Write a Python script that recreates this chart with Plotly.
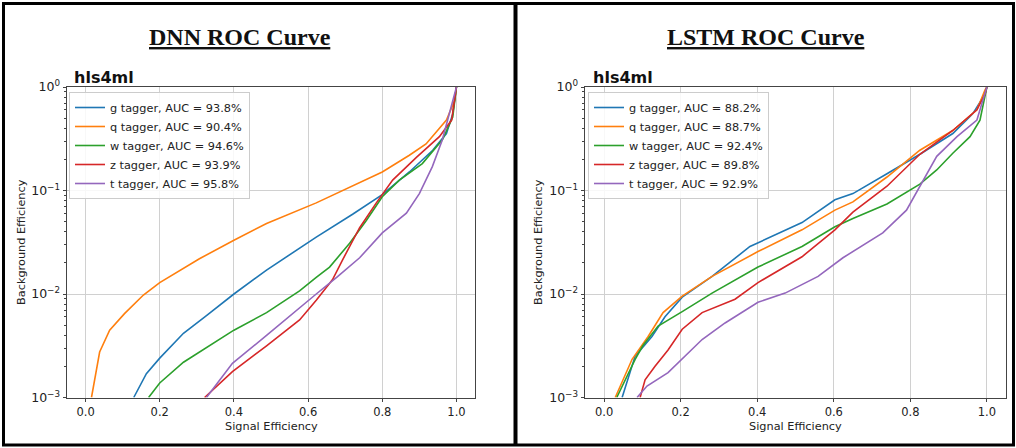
import plotly.graph_objects as go

taggers = ["g tagger", "q tagger", "w tagger", "z tagger", "t tagger"]
colors = ["#1f77b4", "#ff7f0e", "#2ca02c", "#d62728", "#9467bd"]

dnn_auc = ["93.8%", "90.4%", "94.6%", "93.9%", "95.8%"]
lstm_auc = ["88.2%", "88.7%", "92.4%", "89.8%", "92.9%"]

# ---- DNN ROC curves (signal efficiency, background efficiency) ----
dnn_g_x = [0.13, 0.164, 0.2, 0.264, 0.326, 0.4, 0.488, 0.622, 0.72, 0.8, 0.873, 0.936, 0.973, 0.99, 1.0]
dnn_g_y = [0.001, 0.0017, 0.0024, 0.00417, 0.00617, 0.01, 0.017, 0.0355, 0.0589, 0.0912, 0.151, 0.245, 0.355, 0.55, 1.0]

dnn_q_x = [0.016, 0.03, 0.038, 0.065, 0.105, 0.156, 0.2, 0.307, 0.4, 0.488, 0.577, 0.622, 0.8, 0.873, 0.918, 0.973, 0.995, 1.0]
dnn_q_y = [0.001, 0.00195, 0.00275, 0.00447, 0.00646, 0.00977, 0.0129, 0.0219, 0.0331, 0.0479, 0.0646, 0.0759, 0.151, 0.219, 0.282, 0.479, 0.741, 1.0]

dnn_w_x = [0.17, 0.2, 0.264, 0.326, 0.4, 0.488, 0.577, 0.622, 0.658, 0.712, 0.757, 0.8, 0.846, 0.908, 0.962, 0.99, 1.0]
dnn_w_y = [0.001, 0.00138, 0.00219, 0.00302, 0.00447, 0.00661, 0.0107, 0.0145, 0.0182, 0.0309, 0.0513, 0.0871, 0.126, 0.182, 0.309, 0.513, 1.0]

dnn_z_x = [0.321, 0.396, 0.488, 0.577, 0.622, 0.666, 0.693, 0.739, 0.784, 0.828, 0.892, 0.954, 0.987, 1.0]
dnn_z_y = [0.001, 0.00178, 0.00316, 0.00562, 0.0087, 0.0138, 0.0214, 0.0437, 0.0759, 0.126, 0.209, 0.331, 0.479, 1.0]

dnn_t_x = [0.326, 0.396, 0.488, 0.577, 0.622, 0.677, 0.739, 0.8, 0.865, 0.9, 0.935, 0.962, 0.981, 1.0]
dnn_t_y = [0.001, 0.00214, 0.00398, 0.00741, 0.01, 0.0145, 0.0224, 0.0389, 0.0603, 0.0933, 0.17, 0.309, 0.562, 1.0]

# ---- LSTM ROC curves ----
lstm_g_x = [0.047, 0.081, 0.125, 0.159, 0.204, 0.282, 0.381, 0.517, 0.603, 0.65, 0.739, 0.825, 0.911, 0.963, 0.995, 1.0]
lstm_g_y = [0.001, 0.00251, 0.00389, 0.00603, 0.00933, 0.0148, 0.0288, 0.049, 0.0813, 0.0933, 0.145, 0.224, 0.355, 0.55, 0.851, 1.0]

lstm_q_x = [0.029, 0.073, 0.115, 0.154, 0.204, 0.282, 0.402, 0.517, 0.603, 0.65, 0.739, 0.825, 0.911, 0.974, 0.995, 1.0]
lstm_q_y = [0.001, 0.00234, 0.00389, 0.00661, 0.00955, 0.0148, 0.0257, 0.0417, 0.0646, 0.0776, 0.135, 0.245, 0.38, 0.603, 0.933, 1.0]

lstm_w_x = [0.033, 0.081, 0.101, 0.141, 0.204, 0.282, 0.402, 0.517, 0.603, 0.65, 0.739, 0.825, 0.869, 0.911, 0.956, 0.982, 1.0]
lstm_w_y = [0.001, 0.00234, 0.00316, 0.0049, 0.00676, 0.0102, 0.0182, 0.0288, 0.0447, 0.0537, 0.0741, 0.115, 0.158, 0.229, 0.331, 0.479, 1.0]

lstm_z_x = [0.094, 0.107, 0.133, 0.167, 0.204, 0.256, 0.342, 0.402, 0.517, 0.603, 0.65, 0.739, 0.825, 0.911, 0.974, 0.995, 1.0]
lstm_z_y = [0.001, 0.00148, 0.002, 0.00288, 0.00457, 0.00661, 0.00891, 0.0129, 0.0229, 0.0417, 0.0617, 0.11, 0.224, 0.38, 0.603, 0.851, 1.0]

lstm_t_x = [0.086, 0.112, 0.167, 0.211, 0.256, 0.316, 0.402, 0.473, 0.559, 0.624, 0.728, 0.79, 0.833, 0.869, 0.922, 0.974, 1.0]
lstm_t_y = [0.001, 0.00129, 0.00174, 0.00251, 0.00363, 0.00525, 0.00832, 0.0102, 0.0148, 0.0224, 0.0389, 0.0646, 0.126, 0.214, 0.331, 0.479, 1.0]

x_tick_vals = [0.0, 0.2, 0.4, 0.6, 0.8, 1.0]
x_tick_text = ["0.0", "0.2", "0.4", "0.6", "0.8", "1.0"]
y_tick_vals = [0.001, 0.01, 0.1, 1.0]
y_tick_text = ["10<sup>\u22123</sup>", "10<sup>\u22122</sup>", "10<sup>\u22121</sup>", "10<sup>0</sup>"]
y_minor_vals = [m * 10.0 ** e for e in (-3, -2, -1) for m in range(2, 10)]

panel_titles = ["DNN ROC Curve", "LSTM ROC Curve"]
sub_title = "hls4ml"
x_label = "Signal Efficiency"
y_label = "Background Efficiency"

dnn_data = [(dnn_g_x, dnn_g_y), (dnn_q_x, dnn_q_y), (dnn_w_x, dnn_w_y), (dnn_z_x, dnn_z_y), (dnn_t_x, dnn_t_y)]
lstm_data = [(lstm_g_x, lstm_g_y), (lstm_q_x, lstm_q_y), (lstm_w_x, lstm_w_y), (lstm_z_x, lstm_z_y), (lstm_t_x, lstm_t_y)]

W, H = 1016, 448
FONT = "DejaVu Sans"

fig = go.Figure()

for i, (xs, ys) in enumerate(dnn_data):
    fig.add_trace(go.Scatter(x=xs, y=ys, mode="lines", line=dict(color=colors[i], width=1.6),
                             name=f"{taggers[i]}, AUC = {dnn_auc[i]}", xaxis="x", yaxis="y", legend="legend"))
for i, (xs, ys) in enumerate(lstm_data):
    fig.add_trace(go.Scatter(x=xs, y=ys, mode="lines", line=dict(color=colors[i], width=1.6),
                             name=f"{taggers[i]}, AUC = {lstm_auc[i]}", xaxis="x2", yaxis="y2", legend="legend2"))

def px_x(p):
    return p / W

def px_y(p):
    return 1 - p / H

left_dom = [px_x(67), px_x(475)]
right_dom = [px_x(585), px_x(1006)]
y_dom = [px_y(397.5), px_y(87)]

tickfont = dict(family=FONT, size=11.5, color="#222")
xcommon = dict(range=[-0.05, 1.05], tickvals=x_tick_vals, ticktext=x_tick_text, showgrid=True,
               gridcolor="#d0d0d0", gridwidth=1, zeroline=False, showline=True, linecolor="#444",
               linewidth=1, mirror=True, ticks="outside", ticklen=3.5, tickcolor="#444",
               tickfont=tickfont, automargin=False)
ycommon = dict(type="log", range=[-3, 0], tickvals=y_tick_vals, ticktext=y_tick_text, showgrid=True,
               gridcolor="#d0d0d0", gridwidth=1, zeroline=False, showline=True, linecolor="#444",
               linewidth=1, mirror=True, ticks="outside", ticklen=3.5, tickcolor="#444",
               tickfont=dict(family=FONT, size=12.5, color="#222"), automargin=False,
               minor=dict(tickvals=y_minor_vals, ticks="outside", ticklen=2, tickcolor="#444", showgrid=False))

legend_common = dict(font=dict(family=FONT, size=11.3, color="#222"), bgcolor="rgba(255,255,255,0.85)",
                     bordercolor="#cccccc", borderwidth=1, xanchor="left", yanchor="top",
                     itemwidth=30, tracegroupgap=0)

fig.update_layout(
    template="none",
    width=W, height=H, autosize=False,
    margin=dict(l=0, r=0, t=0, b=0, pad=0, autoexpand=False),
    paper_bgcolor="white", plot_bgcolor="white",
    font=dict(family=FONT, color="#222"),
    xaxis=dict(domain=left_dom, anchor="y", **xcommon),
    yaxis=dict(domain=y_dom, anchor="x", **ycommon),
    xaxis2=dict(domain=right_dom, anchor="y2", **xcommon),
    yaxis2=dict(domain=y_dom, anchor="x2", **ycommon),
    legend=dict(x=px_x(69), y=px_y(92), **legend_common),
    legend2=dict(x=px_x(588), y=px_y(92), **legend_common),
    showlegend=True,
)

annotations = []
for title, cx, hx, xc, ylx in [(panel_titles[0], 240, 73, 271, 21), (panel_titles[1], 766, 592, 795.5, 538)]:
    annotations.append(dict(text=f"<b><u>{title}</u></b>", x=px_x(cx), y=px_y(37), xref="paper", yref="paper",
                            xanchor="center", yanchor="middle", showarrow=False,
                            font=dict(family="Liberation Serif", size=24, color="#111")))
    annotations.append(dict(text=f"<b>{sub_title}</b>", x=px_x(hx - 1), y=px_y(77), xref="paper", yref="paper",
                            xanchor="left", yanchor="middle", showarrow=False,
                            font=dict(family=FONT, size=16, color="#111")))
    annotations.append(dict(text=x_label, x=px_x(xc), y=px_y(426), xref="paper", yref="paper",
                            xanchor="center", yanchor="middle", showarrow=False,
                            font=dict(family=FONT, size=11.3, color="#222")))
    annotations.append(dict(text=y_label, x=px_x(ylx), y=px_y(242), xref="paper", yref="paper",
                            xanchor="center", yanchor="middle", showarrow=False, textangle=-90,
                            font=dict(family=FONT, size=11.3, color="#222")))
fig.update_layout(annotations=annotations)

shapes = [
    dict(type="rect", xref="paper", yref="paper", x0=px_x(3.5), x1=px_x(1013.5), y0=px_y(445), y1=px_y(3.5),
         line=dict(color="black", width=3), fillcolor="rgba(0,0,0,0)", layer="above"),
    dict(type="line", xref="paper", yref="paper", x0=px_x(515.5), x1=px_x(515.5), y0=px_y(445), y1=px_y(3.5),
         line=dict(color="black", width=4), layer="above"),
]
fig.update_layout(shapes=shapes)

page_fix = (
    "var s=document.createElement('style');"
    "s.innerHTML='html,body{margin:0!important;padding:0!important;overflow:hidden!important;"
    "width:1016px!important;height:448px!important}';"
    "document.head.appendChild(s);"
)

fig.write_html("out.html", config={"displayModeBar": False}, post_script=page_fix)
